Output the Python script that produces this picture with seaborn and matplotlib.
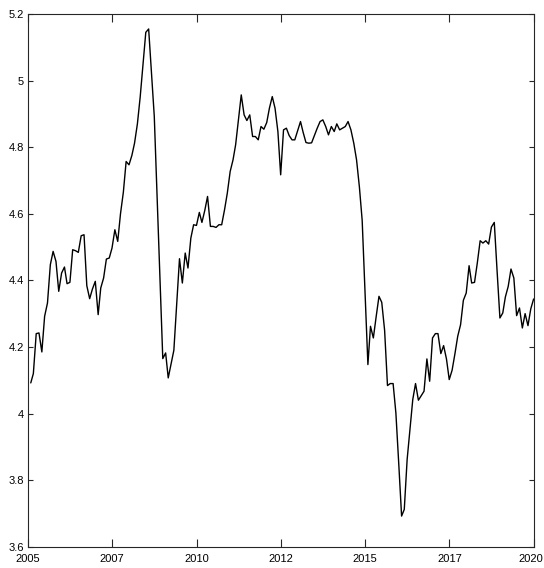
import numpy as np
import pandas as pd
import matplotlib
matplotlib.use("Agg")
import matplotlib.pyplot as plt
import matplotlib.dates as mdates
import matplotlib.transforms as mtransforms
import seaborn as sns

# Monthly series, end-of-month observations Jan 2005 - Dec 2019
values_2005 = [4.092, 4.120, 4.240, 4.242, 4.185, 4.292, 4.332, 4.447, 4.487, 4.457, 4.367, 4.422]
values_2006 = [4.440, 4.390, 4.394, 4.492, 4.489, 4.484, 4.534, 4.537, 4.384, 4.345, 4.374, 4.397]
values_2007 = [4.297, 4.377, 4.407, 4.464, 4.467, 4.497, 4.552, 4.517, 4.600, 4.665, 4.757, 4.747]
values_2008 = [4.775, 4.812, 4.870, 4.950, 5.050, 5.145, 5.155, 5.020, 4.892, 4.650, 4.410, 4.165]
values_2009 = [4.182, 4.107, 4.150, 4.190, 4.330, 4.465, 4.392, 4.482, 4.437, 4.527, 4.567, 4.565]
values_2010 = [4.604, 4.574, 4.610, 4.652, 4.562, 4.562, 4.559, 4.567, 4.567, 4.612, 4.662, 4.727]
values_2011 = [4.762, 4.807, 4.882, 4.957, 4.897, 4.880, 4.897, 4.832, 4.832, 4.822, 4.862, 4.854]
values_2012 = [4.874, 4.917, 4.952, 4.917, 4.847, 4.717, 4.852, 4.857, 4.835, 4.822, 4.822, 4.850]
values_2013 = [4.877, 4.845, 4.814, 4.812, 4.813, 4.835, 4.857, 4.877, 4.882, 4.862, 4.837, 4.862]
values_2014 = [4.847, 4.870, 4.852, 4.857, 4.862, 4.877, 4.852, 4.812, 4.762, 4.680, 4.580, 4.365]
values_2015 = [4.147, 4.262, 4.227, 4.290, 4.352, 4.334, 4.250, 4.084, 4.090, 4.090, 4.002, 3.850]
values_2016 = [3.692, 3.712, 3.862, 3.950, 4.042, 4.090, 4.040, 4.054, 4.067, 4.164, 4.097, 4.227]
values_2017 = [4.240, 4.240, 4.180, 4.204, 4.164, 4.102, 4.130, 4.180, 4.232, 4.267, 4.340, 4.362]
values_2018 = [4.444, 4.392, 4.394, 4.452, 4.519, 4.512, 4.519, 4.509, 4.560, 4.574, 4.430, 4.287]
values_2019 = [4.302, 4.350, 4.382, 4.434, 4.407, 4.294, 4.317, 4.257, 4.300, 4.264, 4.314, 4.344]

series = (values_2005 + values_2006 + values_2007 + values_2008 + values_2009
          + values_2010 + values_2011 + values_2012 + values_2013 + values_2014
          + values_2015 + values_2016 + values_2017 + values_2018 + values_2019)
dates = pd.date_range("2005-01-31", periods=len(series), freq="ME")

tick_dates = pd.to_datetime(["2005-01-01", "2007-07-02", "2010-01-01", "2012-07-02",
                             "2015-01-01", "2017-07-02", "2020-01-01"])
y_ticks = [3.6, 3.8, 4.0, 4.2, 4.4, 4.6, 4.8, 5.0, 5.2]
y_labels = ["3.6", "3.8", "4", "4.2", "4.4", "4.6", "4.8", "5", "5.2"]

sns.set_style("white")
plt.rcParams["font.family"] = ["Liberation Sans Narrow", "Liberation Sans", "DejaVu Sans"]

fig = plt.figure(figsize=(5.44, 5.68), dpi=100)
ax = fig.add_axes([28 / 544, (568 - 546.7) / 568, (533.7 - 28) / 544, (546.7 - 14) / 568])

df = pd.DataFrame({"date": dates, "value": series})
sns.lineplot(data=df, x="date", y="value", ax=ax, color="black", linewidth=1.0)

ax.set_xlim(pd.Timestamp("2005-01-01"), pd.Timestamp("2020-01-01"))
ax.set_ylim(3.6, 5.2)
ax.set_xticks(tick_dates)
ax.xaxis.set_major_formatter(mdates.DateFormatter("%Y"))
ax.set_yticks(y_ticks)
ax.set_yticklabels(y_labels)
ax.set_xlabel("")
ax.set_ylabel("")

edge = "#262626"
for sp in ax.spines.values():
    sp.set_visible(True)
    sp.set_color(edge)
    sp.set_linewidth(0.8)

ax.tick_params(axis="x", direction="in", length=5.5, width=0.8, color=edge,
               labelcolor="black", labelsize=8, pad=5, top=True, bottom=True)
ax.tick_params(axis="y", direction="in", length=3.8, width=0.8, color=edge,
               labelcolor="black", labelsize=8, pad=3, left=True, right=True)

# keep the last year label inside the canvas
fig.canvas.draw()
last = ax.get_xticklabels()[-1]
last.set_transform(last.get_transform() +
                   mtransforms.ScaledTranslation(-3 / 100, 0, fig.dpi_scale_trans))

fig.savefig("out.png", dpi=100, facecolor="white")
